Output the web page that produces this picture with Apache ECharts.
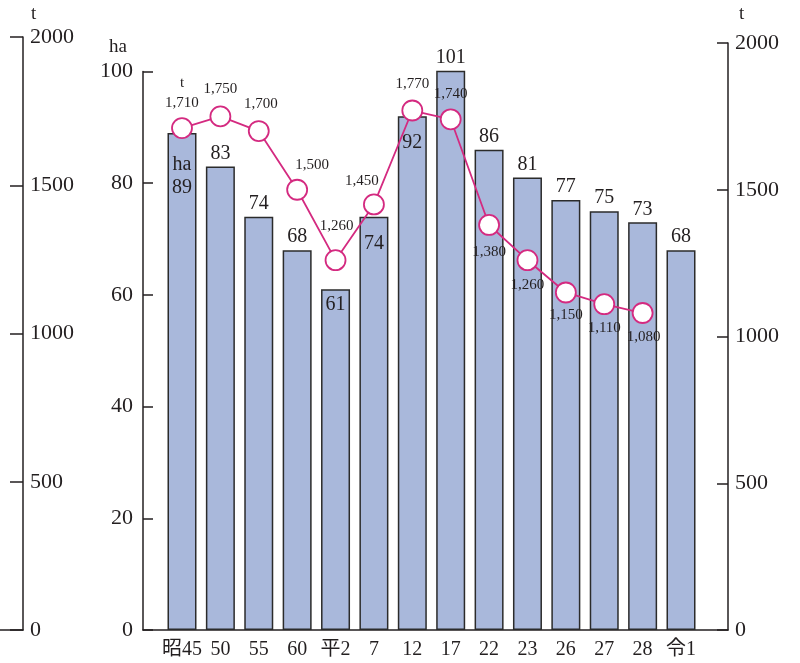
<!DOCTYPE html>
<html>
<head>
<meta charset="utf-8">
<script src="https://cdn.jsdelivr.net/npm/echarts@6/dist/echarts.min.js"></script>
<style>html,body{margin:0;padding:0;background:#fff}#c{width:800px;height:663px}</style>
</head>
<body>
<div id="c"></div>
<script>
const categories = ['昭45', '50', '55', '60', '平2', '7', '12', '17', '22', '23', '26', '27', '28', '令1'];
const areaHa = [89, 83, 74, 68, 61, 74, 92, 101, 86, 81, 77, 75, 73, 68];
const harvestT = [1710, 1750, 1700, 1500, 1260, 1450, 1770, 1740, 1380, 1260, 1150, 1110, 1080, null];
const haTicks = { min: 0, max: 100, interval: 20 };
const tTicks = { min: 0, max: 2000, interval: 500 };

// styling (label placement) kept separate from data
const barInside = [true, false, false, false, true, true, true, false, false, false, false, false, false, false];
const barInsideDist = [20, 0, 0, 0, 4, 16, 15, 0, 0, 0, 0, 0, 0, 0];
const lineLabelPos = ['top','top','top','top','top','top','top','top','bottom','bottom','bottom','bottom','bottom','top'];
const lineLabelOff = [[0,2],[0,0],[2,0],[15,2],[1,-7],[-12,4],[0,0],[0,2],[0,0],[0,-2],[0,-4],[0,-3],[1,-3],[0,0]];

const FONT = "'Liberation Serif', 'Noto Sans CJK JP', serif";
const INK = '#231f20';
const MAG = '#d42a80';
const plain = v => String(v);

const chart = echarts.init(document.getElementById('c'), null, { renderer: 'canvas' });

const barData = areaHa.map((v, i) => ({
  value: v,
  label: barInside[i]
    ? { position: 'insideTop', distance: barInsideDist[i], lineHeight: 23 }
    : { position: 'top', distance: 3 }
}));

const lineData = harvestT.map((v, i) => ({
  value: v,
  label: { position: lineLabelPos[i], offset: lineLabelOff[i], distance: 6 }
}));

chart.setOption({
  animation: false,
  backgroundColor: '#fff',
  textStyle: { fontFamily: FONT, color: INK },
  grid: [
    { left: 162.8, right: 99.8, top: 71.5, bottom: 33 },   // bars (ha)
    { left: 162.8, right: 99.8, top: 43, bottom: 33 },     // line (t, right axis)
    { left: 0, right: 777, top: 37, bottom: 33 },          // left t axis
    { left: 143, right: 72, top: 71.5, bottom: 33 }        // baseline
  ],
  xAxis: [
    { gridIndex: 0, type: 'category', data: categories,
      axisLine: { show: false }, axisTick: { show: false },
      axisLabel: { fontFamily: FONT, fontSize: 20, color: INK, margin: 10, interval: 0 } },
    { gridIndex: 1, type: 'category', data: categories, show: false },
    { gridIndex: 2, type: 'value', min: 0, max: 1,
      axisLine: { show: true, onZero: false, lineStyle: { color: INK, width: 1.5 } },
      axisTick: { show: false }, axisLabel: { show: false }, splitLine: { show: false } },
    { gridIndex: 3, type: 'value', min: 0, max: 1,
      axisLine: { show: true, onZero: false, lineStyle: { color: INK, width: 1.5 } },
      axisTick: { show: false }, axisLabel: { show: false }, splitLine: { show: false } }
  ],
  yAxis: [
    { gridIndex: 0, type: 'value', min: haTicks.min, max: haTicks.max, interval: haTicks.interval,
      position: 'left', offset: 19.8,
      axisLine: { show: true, onZero: false, lineStyle: { color: INK, width: 1.5 } },
      axisTick: { show: true, inside: true, length: 10, lineStyle: { color: INK, width: 1.5 } },
      axisLabel: { fontFamily: FONT, fontSize: 22, color: INK, margin: 10, formatter: plain },
      splitLine: { show: false } },
    { gridIndex: 1, type: 'value', min: tTicks.min, max: tTicks.max, interval: tTicks.interval,
      position: 'right', offset: 27.8,
      axisLine: { show: true, onZero: false, lineStyle: { color: INK, width: 1.5 } },
      axisTick: { show: true, inside: true, length: 11, lineStyle: { color: INK, width: 1.5 } },
      axisLabel: { fontFamily: FONT, fontSize: 22, color: INK, margin: 7, formatter: plain },
      splitLine: { show: false } },
    { gridIndex: 2, type: 'value', min: tTicks.min, max: tTicks.max, interval: tTicks.interval,
      position: 'right',
      axisLine: { show: true, onZero: false, lineStyle: { color: INK, width: 1.5 } },
      axisTick: { show: true, inside: true, length: 13, lineStyle: { color: INK, width: 1.5 } },
      axisLabel: { fontFamily: FONT, fontSize: 22, color: INK, margin: 7, formatter: plain },
      splitLine: { show: false } },
    { gridIndex: 3, type: 'value', show: false }
  ],
  graphic: [
    { type: 'text', left: 31, top: 5, style: { text: 't', font: "19px " + FONT, fill: INK } },
    { type: 'text', left: 109, top: 38, style: { text: 'ha', font: "19px " + FONT, fill: INK } },
    { type: 'text', left: 739, top: 5, style: { text: 't', font: "19px " + FONT, fill: INK } }
  ],
  series: [
    { type: 'bar', xAxisIndex: 0, yAxisIndex: 0, data: barData, barWidth: 29,
      itemStyle: { color: '#a9b8db', borderColor: '#2b2b2b', borderWidth: 1.5 },
      label: { show: true, fontFamily: FONT, fontSize: 20, color: INK,
        formatter: p => p.dataIndex === 0 ? 'ha\n' + p.value : String(p.value) },
      z: 2 },
    { type: 'line', xAxisIndex: 1, yAxisIndex: 1, data: lineData,
      symbol: 'circle', symbolSize: 20, connectNulls: false,
      lineStyle: { color: MAG, width: 1.8 },
      itemStyle: { color: '#ffffff', borderColor: MAG, borderWidth: 1.8 },
      label: { show: true, fontFamily: FONT, fontSize: 15, color: INK, lineHeight: 20,
        formatter: p => (p.dataIndex === 0 ? 't\n' : '') + p.value.toLocaleString('en-US') },
      z: 5 },
    { type: 'line', xAxisIndex: 2, yAxisIndex: 2, data: [] },
    { type: 'line', xAxisIndex: 3, yAxisIndex: 3, data: [] }
  ]
});
</script>
</body>
</html>
